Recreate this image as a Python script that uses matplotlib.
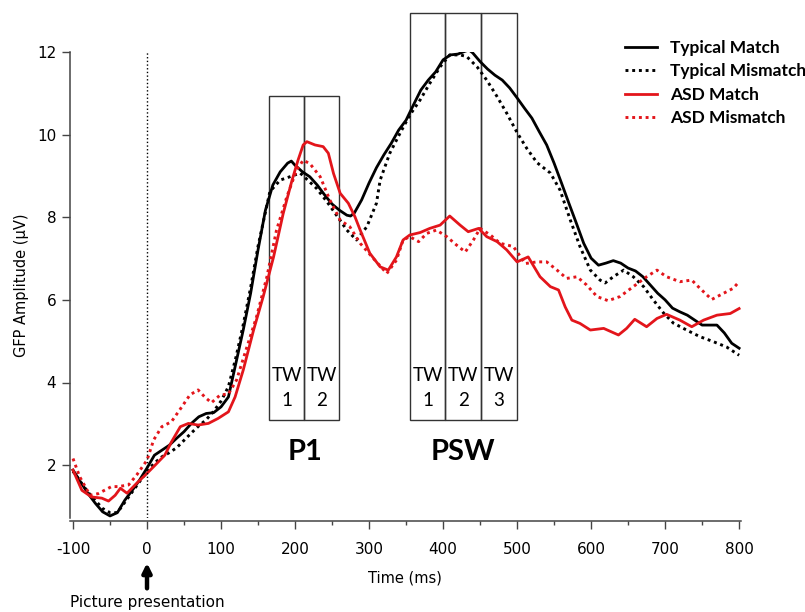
import matplotlib
matplotlib.use('agg')
import matplotlib.pyplot as plt
from matplotlib.patches import Rectangle

plt.rcParams['axes.unicode_minus'] = False

# GFP amplitude (uV), time in ms
tm_time = [-100, -90, -80, -70, -60, -50, -40, -30, -20, -10, 0, 10, 20, 30, 40, 50, 60, 70, 80, 90,
           100, 110, 120, 130, 140, 150, 160, 170, 180, 190, 195, 200, 210, 220, 230, 240, 250, 260,
           270, 275, 280, 290, 300, 310, 320, 330, 340, 350, 360, 370, 380, 390, 400, 410, 420, 430,
           435, 440, 450, 460, 470, 480, 490, 500, 510, 520, 530, 540, 550, 560, 570, 580, 590, 600,
           610, 620, 630, 640, 650, 660, 670, 680, 690, 700, 710, 720, 730, 740, 750, 760, 770, 780,
           790, 800]
typical_match = [1.88, 1.6, 1.32, 1.08, 0.87, 0.77, 0.85, 1.15, 1.39, 1.64, 1.93, 2.24, 2.36, 2.48,
                 2.65, 2.81, 3.01, 3.17, 3.25, 3.27, 3.41, 3.65, 4.46, 5.27, 6.16, 7.21, 8.17, 8.78,
                 9.1, 9.31, 9.36, 9.26, 9.1, 8.98, 8.78, 8.54, 8.32, 8.17, 8.05, 8.03, 8.1, 8.42, 8.83,
                 9.2, 9.51, 9.79, 10.11, 10.35, 10.72, 11.08, 11.32, 11.52, 11.81, 11.93, 11.95, 12.02,
                 12.05, 11.98, 11.77, 11.59, 11.44, 11.32, 11.13, 10.89, 10.64, 10.4, 10.07, 9.75,
                 9.31, 8.83, 8.34, 7.86, 7.37, 7.01, 6.84, 6.89, 6.95, 6.89, 6.77, 6.7, 6.56, 6.36,
                 6.16, 6.0, 5.8, 5.71, 5.63, 5.51, 5.39, 5.39, 5.39, 5.2, 4.95, 4.83]

tmm_time = [-100, -90, -80, -70, -60, -50, -40, -30, -20, -10, 0, 10, 20, 30, 40, 50, 60, 70, 80, 90,
            100, 110, 120, 130, 140, 150, 166, 180, 193, 207, 229, 243, 256, 270, 283, 297, 310, 315,
            328, 342, 355, 369, 382, 396, 409, 423, 432, 446, 459, 473, 486, 500, 513, 527, 545, 558,
            572, 585, 599, 612, 619, 630, 644, 657, 671, 684, 698, 711, 729, 747, 765, 783, 800]
typical_mismatch = [1.85, 1.6, 1.35, 1.15, 0.95, 0.85, 0.85, 1.1, 1.35, 1.6, 1.85, 2.05, 2.2, 2.3,
                    2.42, 2.6, 2.78, 2.95, 3.1, 3.3, 3.55, 3.9, 4.6, 5.4, 6.3, 7.3, 8.62, 8.9, 8.98,
                    9.07, 8.7, 8.38, 8.05, 7.69, 7.45, 7.77, 8.34, 8.9, 9.55, 10.04, 10.47, 10.84,
                    11.24, 11.64, 11.93, 11.93, 11.89, 11.64, 11.32, 10.92, 10.52, 10.05, 9.67, 9.32,
                    9.07, 8.66, 7.93, 7.29, 6.72, 6.48, 6.41, 6.56, 6.72, 6.56, 6.32, 6.0, 5.68, 5.44,
                    5.27, 5.11, 4.99, 4.86, 4.66]

am_time = [-100, -88, -75, -61, -52, -43, -36, -27, -14, 0, 11, 24, 33, 45, 56, 69, 83, 96, 110,
           119, 130, 144, 157, 171, 184, 196, 204, 211, 216, 227, 238, 245, 252, 261, 272, 281, 288,
           301, 315, 326, 337, 346, 355, 369, 382, 396, 409, 423, 434, 448, 459, 473, 486, 500, 515,
           531, 545, 556, 565, 574, 585, 599, 617, 637, 648, 659, 675, 689, 702, 720, 736, 752, 770,
           788, 800]
asd_match = [1.88, 1.39, 1.23, 1.2, 1.13, 1.27, 1.44, 1.32, 1.56, 1.8, 2.0, 2.24, 2.56, 2.93, 3.01,
             2.97, 3.01, 3.13, 3.29, 3.65, 4.3, 5.27, 6.08, 7.04, 8.09, 8.9, 9.38, 9.75, 9.83, 9.75,
             9.71, 9.55, 9.06, 8.58, 8.34, 8.01, 7.69, 7.13, 6.8, 6.72, 7.04, 7.45, 7.57, 7.63, 7.73,
             7.81, 8.03, 7.81, 7.65, 7.73, 7.53, 7.41, 7.21, 6.92, 7.04, 6.56, 6.32, 6.24, 5.83, 5.51,
             5.43, 5.27, 5.31, 5.15, 5.31, 5.53, 5.35, 5.55, 5.65, 5.51, 5.35, 5.51, 5.63, 5.67, 5.79]

amm_time = [-100, -91, -77, -66, -48, -39, -25, -14, 0, 9, 20, 33, 47, 58, 69, 78, 87, 99, 110, 121,
            135, 148, 162, 175, 189, 202, 211, 220, 234, 247, 261, 274, 288, 306, 324, 337, 346, 355,
            367, 378, 391, 405, 418, 430, 441, 450, 464, 477, 495, 511, 527, 540, 554, 567, 581, 594,
            608, 623, 639, 657, 675, 689, 702, 720, 736, 747, 763, 779, 792, 800]
asd_mismatch = [2.16, 1.72, 1.27, 1.31, 1.48, 1.48, 1.52, 1.76, 2.12, 2.61, 2.93, 3.05, 3.41, 3.7,
                3.82, 3.65, 3.51, 3.7, 3.72, 4.06, 4.86, 5.59, 6.56, 7.69, 8.5, 9.14, 9.38, 9.3,
                8.98, 8.42, 7.93, 7.77, 7.37, 7.0, 6.64, 6.96, 7.45, 7.53, 7.41, 7.61, 7.69, 7.53,
                7.33, 7.16, 7.45, 7.73, 7.57, 7.37, 7.29, 6.88, 6.92, 6.92, 6.72, 6.52, 6.56, 6.36,
                6.08, 5.98, 6.08, 6.32, 6.56, 6.72, 6.56, 6.44, 6.48, 6.28, 6.01, 6.16, 6.28, 6.44]

# time windows (ms)
p1_windows = [(165, 212), (212, 260)]
psw_windows = [(355, 403), (403, 451), (451, 500)]

red = '#e3151b'
dots = (0, (1, 1.3))

fig = plt.figure(figsize=(8.05, 6.12), dpi=100)
ax = fig.add_axes([0.087, 0.1536, 0.833, 0.7614])

ax.plot(tm_time, typical_match, color='k', lw=2.0, label='Typical Match')
ax.plot(tmm_time, typical_mismatch, color='k', lw=2.1, ls=dots, label='Typical Mismatch')
ax.plot(am_time, asd_match, color=red, lw=2.0, label='ASD Match')
ax.plot(amm_time, asd_mismatch, color=red, lw=2.1, ls=dots, label='ASD Mismatch')

# stimulus onset
ax.axvline(0, ls=':', color='k', lw=1)

# time window boxes
for (t0, t1) in p1_windows:
    ax.add_patch(Rectangle((t0, 3.09), t1 - t0, 10.93 - 3.09, fill=False,
                           edgecolor='#333333', lw=1, clip_on=False))
for (t0, t1) in psw_windows:
    ax.add_patch(Rectangle((t0, 3.09), t1 - t0, 12.94 - 3.09, fill=False,
                           edgecolor='#333333', lw=1, clip_on=False))
for i, (t0, t1) in enumerate(p1_windows):
    ax.text((t0 + t1) / 2, 3.87, 'TW\n%d' % (i + 1), ha='center', va='center',
            fontsize=13.5, family='Lato', linespacing=1.6)
for i, (t0, t1) in enumerate(psw_windows):
    ax.text((t0 + t1) / 2, 3.87, 'TW\n%d' % (i + 1), ha='center', va='center',
            fontsize=13.5, family='Lato', linespacing=1.6)

ax.text(213, 2.31, 'P1', ha='center', va='center', fontsize=21, fontweight='bold', family='Lato')
ax.text(427, 2.31, 'PSW', ha='center', va='center', fontsize=21, fontweight='bold', family='Lato')

# axes styling
ax.set_xlim(-104, 802)
ax.set_ylim(0.72, 12)
ax.set_xticks(range(-100, 801, 100))
ax.set_xticks(range(-50, 801, 100), minor=True)
ax.set_yticks([2, 4, 6, 8, 10, 12])
for s in ['top', 'right']:
    ax.spines[s].set_visible(False)
ax.spines['bottom'].set_position(('outward', 2))
for s in ['left', 'bottom']:
    ax.spines[s].set_color('#444444')
    ax.spines[s].set_linewidth(1.1)
ax.tick_params(which='major', direction='out', length=6, width=1, color='#444444',
               labelsize=11, pad=4)
ax.tick_params(axis='x', which='major', pad=9)
ax.tick_params(which='minor', direction='out', length=3, width=1, color='#444444')
ax.set_xlabel('Time (ms)', fontsize=10.5, labelpad=10)
ax.set_ylabel('GFP Amplitude (μV)', fontsize=10.5, labelpad=6)

# picture presentation marker
ax.annotate('', xy=(0, -0.3), xytext=(0, -1.05), annotation_clip=False,
            arrowprops=dict(arrowstyle='-|>', color='k', lw=3.2, mutation_scale=13))
ax.text(0, -1.33, 'Picture presentation', ha='center', va='center', fontsize=11,
        clip_on=False)

leg = ax.legend(loc='upper left', bbox_to_anchor=(625 / 805, 1 - 40 / 612),
                bbox_transform=fig.transFigure, frameon=False, borderpad=0,
                borderaxespad=0, handlelength=1.85, handletextpad=0.75, labelspacing=0.42,
                prop={'family': 'Lato', 'weight': 'bold', 'size': 12.5})

fig.savefig('out.png', dpi=100)
